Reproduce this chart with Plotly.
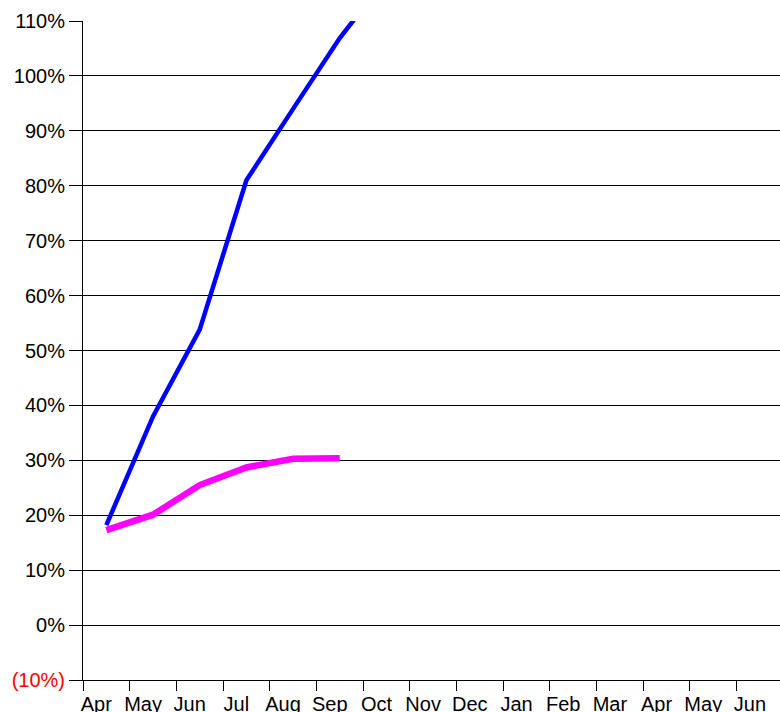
import plotly.graph_objects as go

months = ["Apr", "May", "Jun", "Jul", "Aug", "Sep", "Oct", "Nov", "Dec",
          "Jan", "Feb", "Mar", "Apr ", "May ", "Jun "]
month_labels = ["Apr", "May", "Jun", "Jul", "Aug", "Sep", "Oct", "Nov", "Dec",
                "Jan", "Feb", "Mar", "Apr", "May", "Jun"]

blue_months = ["Apr", "May", "Jun", "Jul", "Aug", "Sep", "Oct"]
blue_values = [18.2, 38.0, 53.8, 81.0, 94.0, 106.9, 117.8]

pink_months = ["Apr", "May", "Jun", "Jul", "Aug", "Sep"]
pink_values = [17.3, 20.1, 25.5, 28.7, 30.3, 30.4]

y_ticks = [-10, 0, 10, 20, 30, 40, 50, 60, 70, 80, 90, 100, 110]
y_ticktext = ["<span style='color:#ff0000'>(10%)</span>", "0%", "10%", "20%", "30%",
              "40%", "50%", "60%", "70%", "80%", "90%", "100%", "110%"]

fig = go.Figure()
fig.add_trace(go.Scatter(x=blue_months, y=blue_values, mode="lines",
                         line=dict(color="#0000ff", width=4.5), showlegend=False))
fig.add_trace(go.Scatter(x=pink_months, y=pink_values, mode="lines",
                         line=dict(color="#ff00ff", width=6.5), showlegend=False))

fig.update_layout(
    width=780, height=712,
    margin=dict(l=83, r=0, t=21, b=32),
    paper_bgcolor="white", plot_bgcolor="white",
    font=dict(family="Liberation Sans, Arial, sans-serif", size=20, color="black"),
)
fig.update_xaxes(
    type="category", categoryorder="array", categoryarray=months,
    tickmode="array", tickvals=months, ticktext=month_labels,
    range=[-0.5, 14.43], tickson="boundaries", ticks="outside", ticklen=10,
    tickcolor="black", tickwidth=1, showgrid=False, showline=True,
    linecolor="black", linewidth=1, ticklabelshift=-10, tickangle=0,
    ticklabelstandoff=6,
    tickfont=dict(size=20, color="black"), automargin=False,
)
fig.update_yaxes(
    range=[-10, 110], tickmode="array", tickvals=y_ticks, ticktext=y_ticktext,
    ticks="outside", ticklen=13, tickcolor="black", tickwidth=1,
    showgrid=True, gridcolor="black", gridwidth=1, zeroline=False,
    showline=True, linecolor="black", linewidth=1,
    tickfont=dict(size=20, color="black"), automargin=False,
)

fig.write_html(
    "out.html",
    config={"displayModeBar": False},
    post_script="document.body.style.margin='0';document.body.style.overflow='hidden';",
)
